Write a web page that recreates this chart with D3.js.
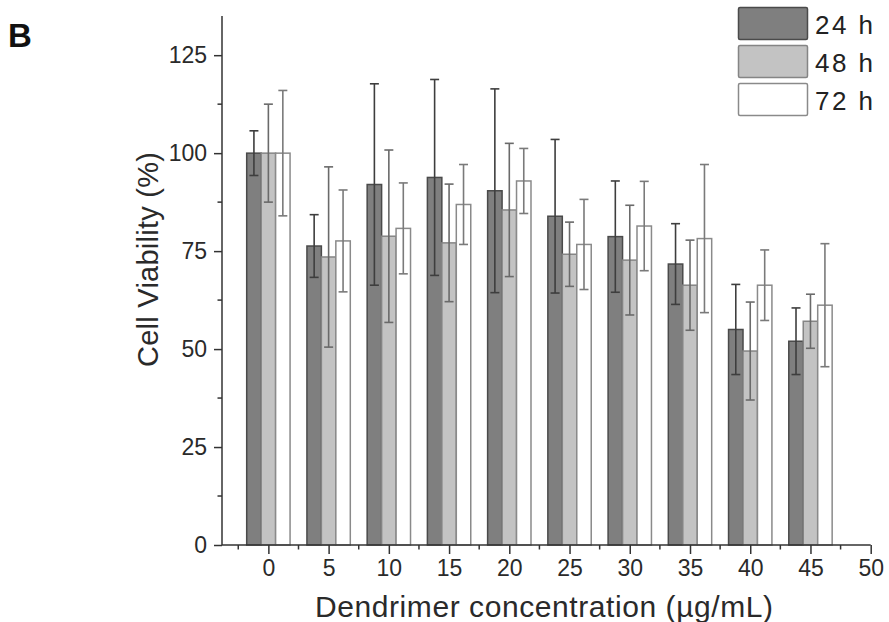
<!DOCTYPE html>
<html>
<head>
<meta charset="utf-8">
<script src="https://cdn.jsdelivr.net/npm/d3@7"></script>
<style>
  body { margin: 0; background: #fff; }
  text { font-family: "Liberation Sans", Arial, sans-serif; }
</style>
</head>
<body>
<div id="chart"></div>
<script>
// ---- data ----
const concentrations = [0, 5, 10, 15, 20, 25, 30, 35, 40, 45]
const series = ['24 h', '48 h', '72 h']
const v24 = [100, 76.3, 92, 93.8, 90.4, 83.9, 78.7, 71.7, 55, 52]
const e24 = [5.7, 8, 25.7, 25, 26, 19.6, 14.2, 10.3, 11.5, 8.5]
const v48 = [100, 73.5, 78.8, 77.1, 85.5, 74.2, 72.7, 66.3, 49.5, 57.1]
const e48 = [12.5, 23, 22, 15, 17, 8.2, 14, 11.5, 12.5, 6.9]
const v72 = [100, 77.6, 80.8, 86.9, 92.9, 76.7, 81.4, 78.2, 66.3, 61.2]
const e72 = [16, 13, 11.6, 10.2, 8.3, 11.5, 11.4, 18.9, 9, 15.7]
const xTicks = [0, 5, 10, 15, 20, 25, 30, 35, 40, 45, 50]
const yTicks = [0, 25, 50, 75, 100, 125]

const values = [v24, v48, v72]
const errors = [e24, e48, e72]

// ---- styles ----
const fills = ['#7f7f7f', '#c3c3c3', '#ffffff']
const edges = ['#4a4a4a', '#858585', '#8a8a8a']
const errColors = ['#3e3e3e', '#6a6a6a', '#7a7a7a']
const offsets = [-1.2, 0, 1.2]   // bar centre offset, in x units
const barW = 1.2                  // bar width, in x units

const width = 889, height = 622
const svg = d3.select('#chart').append('svg')
    .attr('width', width)
    .attr('height', height)

// scales
const x = d3.scaleLinear().domain([-3.85, 50]).range([222, 870.7])
const y = d3.scaleLinear().domain([0, 135]).range([545, 16])

// bars
series.forEach((s, k) => {
    svg.append('g').selectAll('rect')
        .data(concentrations)
        .enter().append('rect')
        .attr('x', (d) => x(d + offsets[k] - barW / 2))
        .attr('width', x(barW) - x(0))
        .attr('y', (d, i) => y(values[k][i]))
        .attr('height', (d, i) => y(0) - y(values[k][i]))
        .attr('fill', fills[k])
        .attr('stroke', edges[k])
        .attr('stroke-width', 1.5)
})

// error bars (drawn on top of the bars)
series.forEach((s, k) => {
    const g = svg.append('g')
        .attr('stroke', errColors[k])
        .attr('stroke-width', 1.6)
    concentrations.forEach((c, i) => {
        const cx = x(c + offsets[k])
        const top = y(values[k][i] + errors[k][i])
        const bot = y(values[k][i] - errors[k][i])
        g.append('line').attr('x1', cx).attr('x2', cx).attr('y1', top).attr('y2', bot)
        g.append('line').attr('x1', cx - 4.5).attr('x2', cx + 4.5).attr('y1', top).attr('y2', top)
        g.append('line').attr('x1', cx - 4.5).attr('x2', cx + 4.5).attr('y1', bot).attr('y2', bot)
    })
})

// minor ticks
const xMinor = d3.range(-2.5, 50, 5)
const yMinor = d3.range(12.5, 135, 25)

// x axis
const xAxis = svg.append('g')
    .attr('transform', 'translate(0,' + y(0) + ')')
    .call(d3.axisBottom(x).tickValues(xTicks).tickSize(9).tickSizeOuter(0).tickPadding(6))
xAxis.append('g').selectAll('line').data(xMinor).enter().append('line')
    .attr('x1', d => x(d)).attr('x2', d => x(d)).attr('y1', 0).attr('y2', 4.5)
    .attr('stroke', '#333')
xAxis.select('.domain').attr('d', 'M' + x.range()[0] + ',0H' + x.range()[1])

// y axis
const yAxis = svg.append('g')
    .attr('transform', 'translate(' + x.range()[0] + ',0)')
    .call(d3.axisLeft(y).tickValues(yTicks).tickSize(8).tickSizeOuter(0).tickPadding(7))
yAxis.append('g').selectAll('line').data(yMinor).enter().append('line')
    .attr('x1', 0).attr('x2', -4.5).attr('y1', d => y(d)).attr('y2', d => y(d))
    .attr('stroke', '#333')
yAxis.select('.domain').attr('d', 'M0,' + y.range()[0] + 'V' + y.range()[1])

svg.selectAll('.domain, .tick line, g line').filter(function() {
    return this.parentNode.getAttribute('stroke') === null
}).attr('stroke', '#333').attr('stroke-width', 1.5)
svg.selectAll('.tick text')
    .attr('fill', '#2a2a2a')
    .style('font-size', '23px')
    .style('font-family', '"Liberation Sans", Arial, sans-serif')

// axis titles
svg.append('text')
    .attr('x', 315).attr('y', 617)
    .attr('textLength', 458).attr('lengthAdjust', 'spacing')
    .style('font-size', '30px').attr('fill', '#2a2a2a')
    .text('Dendrimer concentration (\u00b5g/mL)')

svg.append('text')
    .attr('transform', 'translate(158,367) rotate(-90)')
    .attr('textLength', 215).attr('lengthAdjust', 'spacing')
    .style('font-size', '29px').attr('fill', '#2a2a2a')
    .text('Cell Viability (%)')

// panel label
svg.append('text')
    .attr('x', 8).attr('y', 46.5)
    .style('font-size', '33px').style('font-weight', 'bold').attr('fill', '#111')
    .text('B')

// legend
const legend = svg.append('g')
series.forEach((s, k) => {
    legend.append('rect')
        .attr('x', 738.5).attr('y', 7.5 + k * 38)
        .attr('width', 69).attr('height', 32)
        .attr('rx', 1.5)
        .attr('fill', fills[k])
        .attr('stroke', edges[k])
        .attr('stroke-width', 1.5)
    legend.append('text')
        .attr('x', 815).attr('y', 33.5 + k * 38)
        .attr('textLength', 58).attr('lengthAdjust', 'spacing')
        .style('font-size', '26px').attr('fill', '#222')
        .text(s)
})
</script>
</body>
</html>
